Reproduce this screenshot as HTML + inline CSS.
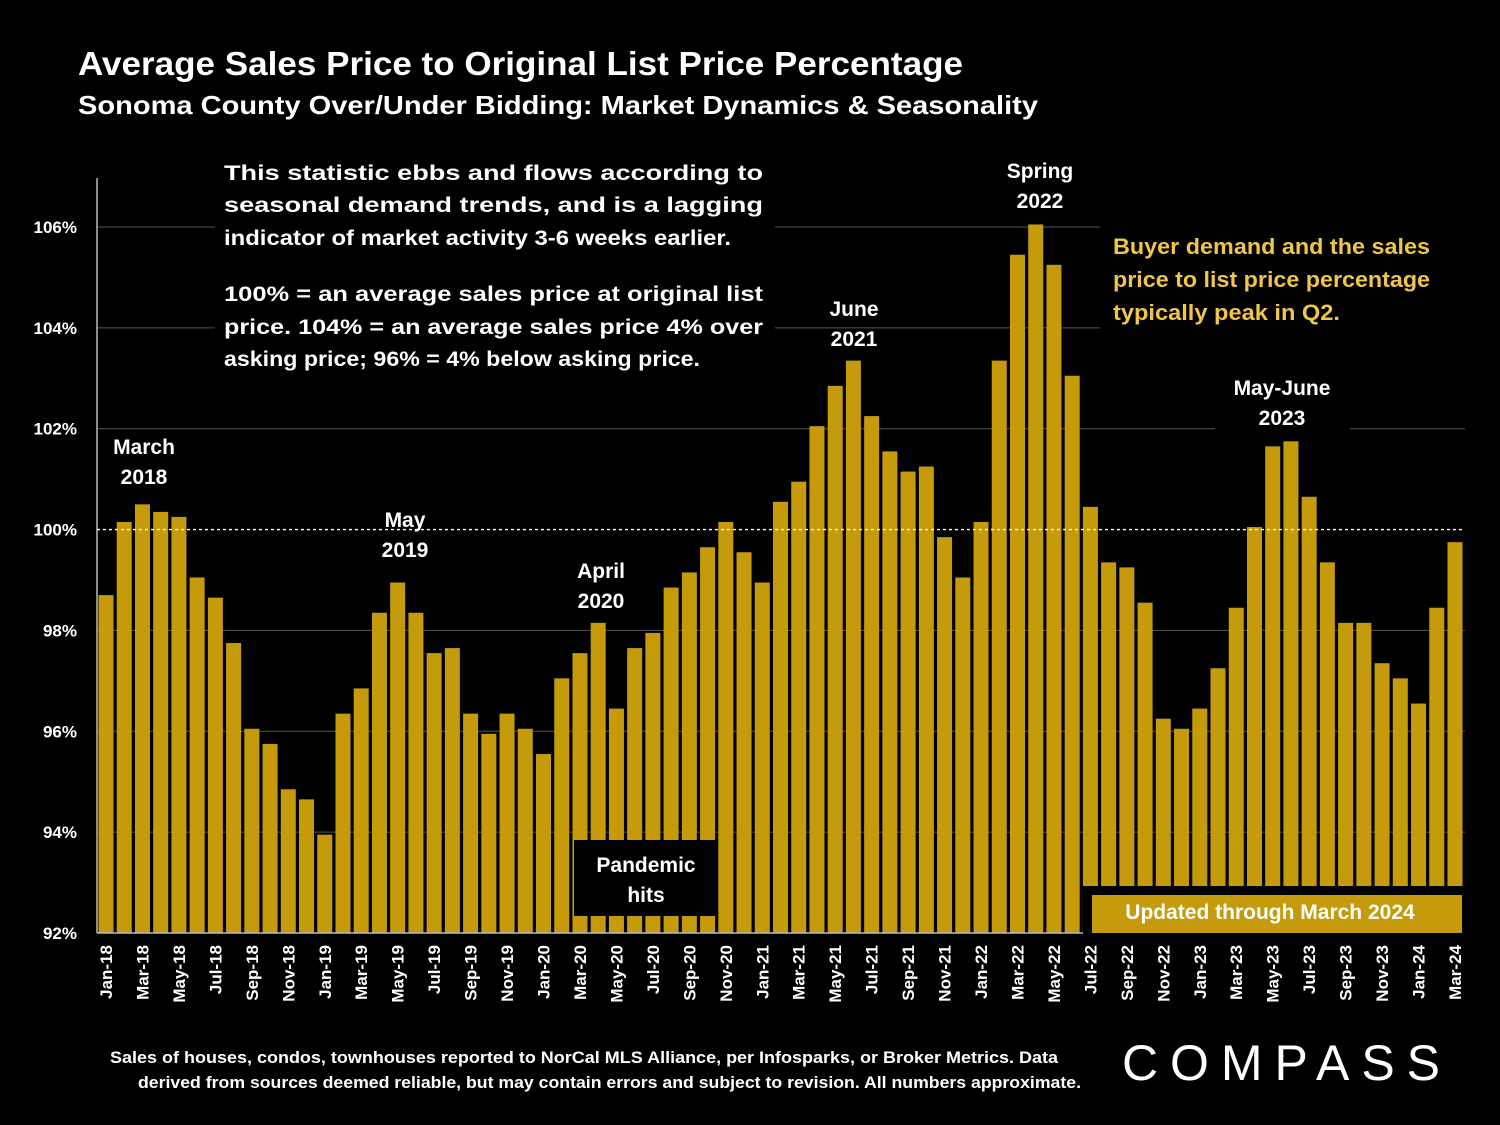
<!DOCTYPE html>
<html><head><meta charset="utf-8"><style>
html,body{margin:0;padding:0;background:#000;}
svg{display:block;font-family:"Liberation Sans","DejaVu Sans",sans-serif;}
</style></head><body>
<svg id="chart" width="1500" height="1125" viewBox="0 0 1500 1125">
<rect x="0" y="0" width="1500" height="1125" fill="#000"/>
<text x="78" y="75" fill="#fff" font-size="33" font-weight="bold" textLength="885" lengthAdjust="spacingAndGlyphs">Average Sales Price to Original List Price Percentage</text>
<text x="78" y="114" fill="#fff" font-size="26" font-weight="bold" textLength="960" lengthAdjust="spacingAndGlyphs">Sonoma County Over/Under Bidding: Market Dynamics &amp; Seasonality</text>
<g id="grid"></g>
<g id="bars"></g>
<g id="yaxis"></g>
<g id="xaxis"></g>
<g id="notes"></g>
<text x="110" y="1063" fill="#fff" font-size="17" font-weight="bold" textLength="948" lengthAdjust="spacingAndGlyphs">Sales of houses, condos, townhouses reported to NorCal MLS Alliance, per Infosparks, or Broker Metrics. Data</text>
<text x="138" y="1088" fill="#fff" font-size="17" font-weight="bold" textLength="943" lengthAdjust="spacingAndGlyphs">derived from sources deemed reliable, but may contain errors and subject to revision. All numbers approximate.</text>
<text x="1122" y="1080" fill="#fff" font-size="50" textLength="318" lengthAdjust="spacing">COMPASS</text>
</svg>
<script>
const months = ["Jan","Feb","Mar","Apr","May","Jun","Jul","Aug","Sep","Oct","Nov","Dec"];
const categories = [];
for (let y = 18; y <= 24; y++) for (let m = 0; m < 12; m++) { if (y === 24 && m > 2) break; categories.push(months[m] + "-" + y); }
const values = [98.7,100.15,100.5,100.35,100.25,99.05,98.65,97.75,96.05,95.75,94.85,94.65,
93.95,96.35,96.85,98.35,98.95,98.35,97.55,97.65,96.35,95.95,96.35,96.05,
95.55,97.05,97.55,98.15,96.45,97.65,97.95,98.85,99.15,99.65,100.15,99.55,
98.95,100.55,100.95,102.05,102.85,103.35,102.25,101.55,101.15,101.25,99.85,99.05,
100.15,103.35,105.45,106.05,105.25,103.05,100.45,99.35,99.25,98.55,96.25,96.05,
96.45,97.25,98.45,100.05,101.65,101.75,100.65,99.35,98.15,98.15,97.35,97.05,
96.55,98.45,99.75];
const yTicks = [92,94,96,98,100,102,104,106];
const yTickLabels = ["92%","94%","96%","98%","100%","102%","104%","106%"];
const NS = "http://www.w3.org/2000/svg";
const yS = v => 933 - (v - 92) * 50.43;
const step = (1455 - 106) / 74;
const xS = i => 106 + i * step;
function mk(tag, attrs, parent) { const e = document.createElementNS(NS, tag); for (const k in attrs) e.setAttribute(k, attrs[k]); parent.appendChild(e); return e; }
const grid = document.getElementById("grid"), bars = document.getElementById("bars"), ya = document.getElementById("yaxis"), xa = document.getElementById("xaxis"), notes = document.getElementById("notes");
yTicks.forEach((t, i) => {
  if (t !== 92 && t !== 100) {
    const g = mk("line", {x1: 97, x2: 1465, y1: yS(t), y2: yS(t), stroke: "#555", "stroke-width": 1}, grid);
    
    
  }
  const tx = mk("text", {x: 77, y: yS(t) + 6, fill: "#fff", "font-size": 17, "font-weight": "bold", "text-anchor": "end"}, ya);
  tx.textContent = yTickLabels[i];
  
  
});
values.forEach((v, i) => {
  const r = mk("rect", {x: xS(i) - 7.5, y: yS(v), width: 15, height: 933 - yS(v), fill: "#c59b0b"}, bars);
  
  
  if (i % 2 === 0) {
    const t = mk("text", {x: 0, y: 0, fill: "#fff", "font-size": 17, "font-weight": "bold", "text-anchor": "end", transform: `translate(${xS(i) + 6},945) rotate(-90)`}, xa);
    t.textContent = categories[i];
    
    
  }
});
const axl = mk("line", {x1: 97, x2: 97, y1: 178, y2: 933, stroke: "#bbb", "stroke-width": 1.5}, ya);


const bl = mk("line", {x1: 97, x2: 1465, y1: 933, y2: 933, stroke: "#bbb", "stroke-width": 1.5}, xa);


const ref = mk("line", {x1: 97, x2: 1465, y1: yS(100), y2: yS(100), stroke: "#fff", "stroke-width": 1.3, "stroke-dasharray": "3,3"}, notes);


function box(x, y, w, h, fill, name) { const r = mk("rect", {x, y, width: w, height: h, fill}, notes);   }
function txt(x, y, s, str, anchor, fill, name) { const t = mk("text", {x, y, fill: fill || "#fff", "font-size": s, "font-weight": "bold", "text-anchor": anchor || "middle"}, notes); t.textContent = str;   return t; }
box(215, 150, 560, 230, "#000", "info-box");
box(1100, 225, 370, 105, "#000", "buyer-demand-box");
box(1215, 372, 135, 60, "#000", "may-june-box");
box(574, 840, 142, 76, "#000", "pandemic-box");
box(1083, 886, 382, 48, "#000", "updated-box");
box(1092, 895, 370, 38, "#c59b0b", "updated-box-fill");
const info = [["This statistic ebbs and flows according to",180,539],["seasonal demand trends, and is a lagging",212,539],["indicator of market activity 3-6 weeks earlier.",245,507],["100% = an average sales price at original list",301,539],["price. 104% = an average sales price 4% over",334,539],["asking price; 96% = 4% below asking price.",366,476]];
info.forEach((l) => {
  const t = txt(224, l[1], 21.5, l[0], "start", "#fff", "info-text-line");
  t.setAttribute("textLength", l[2]); t.setAttribute("lengthAdjust", "spacingAndGlyphs");
});
[["Buyer demand and the sales",254,317],["price to list price percentage",287,317],["typically peak in Q2.",320,227]].forEach(l => {
  const t = txt(1113, l[1], 22, l[0], "start", "#f0c54a", "buyer-demand-text");
  t.setAttribute("textLength", l[2]); t.setAttribute("lengthAdjust", "spacingAndGlyphs");
});
txt(144, 454, 21, "March", "middle", "#fff", "label-march-2018");
txt(144, 484, 21, "2018", "middle", "#fff", "label-march-2018");
txt(405, 527, 21, "May", "middle", "#fff", "label-may-2019");
txt(405, 557, 21, "2019", "middle", "#fff", "label-may-2019");
txt(601, 578, 21, "April", "middle", "#fff", "label-april-2020");
txt(601, 608, 21, "2020", "middle", "#fff", "label-april-2020");
txt(854, 316, 21, "June", "middle", "#fff", "label-june-2021");
txt(854, 346, 21, "2021", "middle", "#fff", "label-june-2021");
txt(1040, 178, 21, "Spring", "middle", "#fff", "label-spring-2022");
txt(1040, 208, 21, "2022", "middle", "#fff", "label-spring-2022");
txt(1282, 395, 21, "May-June", "middle", "#fff", "label-may-june-2023");
txt(1282, 425, 21, "2023", "middle", "#fff", "label-may-june-2023");
txt(646, 872, 21, "Pandemic", "middle", "#fff", "label-pandemic");
txt(646, 902, 21, "hits", "middle", "#fff", "label-pandemic");
txt(1270, 919, 21, "Updated through March 2024", "middle", "#fff", "label-updated");
</script>
</body></html>
